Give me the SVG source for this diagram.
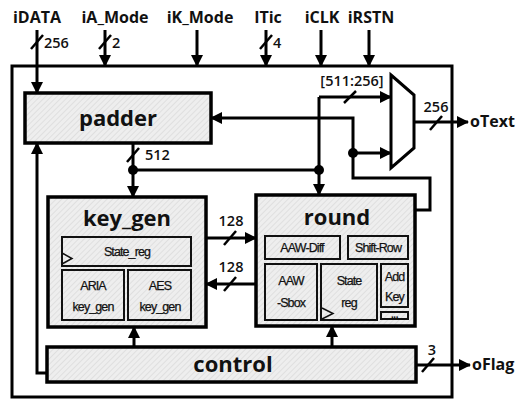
<svg xmlns="http://www.w3.org/2000/svg" width="520" height="399" viewBox="0 0 520 399">
<style>
.lbl{font-family:"Open Sans","Noto Sans","Liberation Sans",sans-serif;font-weight:bold;fill:#111}
.io{font-size:16px}
.num{font-size:14.5px;font-weight:600}
.title{font-size:22px}
.inner{font-family:"Liberation Sans Narrow","Liberation Sans","Open Sans",sans-serif;font-size:12.5px;fill:#111;letter-spacing:-0.9px;stroke:#111;stroke-width:0.25}
.blk{fill:url(#hatch);stroke:#000;stroke-width:3.5}
.sub{fill:url(#hatch);stroke:#111;stroke-width:2}
.wire{fill:none;stroke:#000;stroke-width:3}
.slash{stroke:#000;stroke-width:2.5}
</style>
<defs>
<pattern id="hatch" patternUnits="userSpaceOnUse" width="4" height="4" patternTransform="rotate(45)">
<rect width="4" height="4" fill="#eeeeee"/>
<line x1="0" y1="0" x2="0" y2="4" stroke="#d0d0d0" stroke-width="1"/>
</pattern>
<marker id="arr" markerUnits="userSpaceOnUse" markerWidth="12" markerHeight="12" viewBox="0 0 12 12" refX="11" refY="6" orient="auto">
<path d="M0,0 L12,6 L0,12 Z" fill="#000"/>
</marker>
</defs>
<rect width="520" height="399" fill="#fff"/>

<!-- outer box -->
<rect x="12" y="66" width="440" height="331" fill="none" stroke="#000" stroke-width="3"/>

<!-- IO labels -->
<g id="inputs">
<text class="lbl io" x="37" y="23" text-anchor="middle">iDATA</text>
<text class="lbl io" x="115" y="23" text-anchor="middle">iA_Mode</text>
<text class="lbl io" x="200" y="23" text-anchor="middle">iK_Mode</text>
<text class="lbl io" x="268" y="23" text-anchor="middle">ITic</text>
<text class="lbl io" x="322" y="23" text-anchor="middle">iCLK</text>
<text class="lbl io" x="371" y="23" text-anchor="middle">iRSTN</text>
</g>

<!-- nodes -->
<g id="padder">
<rect class="blk" x="25" y="93" width="186" height="50"/>
<text class="lbl title" x="118" y="126" text-anchor="middle">padder</text>
</g>

<g id="key_gen">
<rect class="blk" x="48" y="197" width="158" height="130"/>
<text class="lbl title" x="127" y="226" text-anchor="middle">key_gen</text>
<rect class="sub" x="62" y="237" width="129" height="29"/>
<text class="inner" x="127" y="256" text-anchor="middle">State_reg</text>
<path d="M62,253 L72,258.5 L62,264" fill="none" stroke="#111" stroke-width="1.5"/>
<rect class="sub" x="62" y="270" width="62" height="50"/>
<text class="inner" x="93" y="290" text-anchor="middle">ARIA</text>
<text class="inner" x="93" y="311" text-anchor="middle">key_gen</text>
<rect class="sub" x="128" y="270" width="63" height="50"/>
<text class="inner" x="160" y="290" text-anchor="middle">AES</text>
<text class="inner" x="160" y="311" text-anchor="middle">key_gen</text>
</g>

<g id="round">
<rect class="blk" x="256" y="195" width="159" height="131"/>
<text class="lbl title" x="337" y="225" text-anchor="middle">round</text>
<rect class="sub" x="265" y="236" width="75" height="23"/>
<text class="inner" x="302" y="252" text-anchor="middle">AAW-Diff</text>
<rect class="sub" x="348" y="236" width="60" height="23"/>
<text class="inner" x="378" y="252" text-anchor="middle">Shift-Row</text>
<rect class="sub" x="265" y="264" width="52" height="56"/>
<text class="inner" x="291" y="285" text-anchor="middle">AAW</text>
<text class="inner" x="291" y="307" text-anchor="middle">-Sbox</text>
<rect class="sub" x="321" y="264" width="56" height="56"/>
<text class="inner" x="349" y="285" text-anchor="middle">State</text>
<text class="inner" x="349" y="307" text-anchor="middle">reg</text>
<path d="M322,308 L333,313.5 L322,319" fill="none" stroke="#111" stroke-width="1.5"/>
<rect class="sub" x="381" y="264" width="27" height="43"/>
<text class="inner" x="394.5" y="281" text-anchor="middle">Add</text>
<text class="inner" x="394.5" y="301" text-anchor="middle">Key</text>
<rect class="sub" x="381" y="312" width="27" height="7"/>
<text x="394.5" y="318" text-anchor="middle" style="font-family:'Liberation Sans',sans-serif;font-size:10px;font-weight:bold;fill:#111;letter-spacing:-0.5px">...</text>
</g>

<g id="control">
<rect class="blk" x="47" y="347" width="369" height="35"/>
<text class="lbl title" x="233" y="372" text-anchor="middle">control</text>
</g>

<g id="mux">
<polygon points="391,75 414,95 414,148 391,168" fill="#fff" stroke="#000" stroke-width="3"/>
</g>

<!-- connectors -->
<g id="connectors">
<path class="wire" d="M37,30 V93" marker-end="url(#arr)"/>
<path class="wire" d="M105,30 V66" marker-end="url(#arr)"/>
<path class="wire" d="M197,30 V66" marker-end="url(#arr)"/>
<path class="wire" d="M266,30 V66" marker-end="url(#arr)"/>
<path class="wire" d="M321,30 V66" marker-end="url(#arr)"/>
<path class="wire" d="M369,30 V66" marker-end="url(#arr)"/>

<path class="wire" d="M133,143 V197" marker-end="url(#arr)"/>
<path class="wire" d="M133,170 H319"/>
<path class="wire" d="M319,97 V195" marker-end="url(#arr)"/>
<path class="wire" d="M319,97 H391" marker-end="url(#arr)"/>
<path class="wire" d="M415,210 H430 V178 H353 V118 H211" marker-end="url(#arr)"/>
<path class="wire" d="M353,153 H391" marker-end="url(#arr)"/>
<circle cx="133" cy="170" r="5" fill="#000"/>
<circle cx="319" cy="170" r="5" fill="#000"/>
<circle cx="353" cy="153" r="5" fill="#000"/>

<path class="wire" d="M414,122 H468" marker-end="url(#arr)"/>
<path class="wire" d="M206,238 H256" marker-end="url(#arr)"/>
<path class="wire" d="M256,284 H206" marker-end="url(#arr)"/>
<path class="wire" d="M134,347 V327" marker-end="url(#arr)"/>
<path class="wire" d="M332,347 V326" marker-end="url(#arr)"/>
<path class="wire" d="M47,373 H37 V143" marker-end="url(#arr)"/>
<path class="wire" d="M416,365 H470" marker-end="url(#arr)"/>

<!-- bus slashes -->
<line class="slash" x1="31" y1="49" x2="43" y2="35"/>
<line class="slash" x1="99" y1="49" x2="111" y2="35"/>
<line class="slash" x1="260" y1="49" x2="272" y2="35"/>
<line class="slash" x1="127" y1="162" x2="139" y2="148"/>
<line class="slash" x1="344" y1="103" x2="356" y2="91"/>
<line class="slash" x1="430" y1="130" x2="442" y2="116"/>
<line class="slash" x1="224" y1="245" x2="236" y2="231"/>
<line class="slash" x1="224" y1="291" x2="236" y2="277"/>
<line class="slash" x1="422" y1="372" x2="434" y2="358"/>

<text class="lbl num" x="44" y="48">256</text>
<text class="lbl num" x="112" y="48">2</text>
<text class="lbl num" x="273" y="48">4</text>
<text class="lbl num" x="145" y="160">512</text>
<text class="lbl num" x="352" y="86" text-anchor="middle">[511:256]</text>
<text class="lbl num" x="436" y="112" text-anchor="middle">256</text>
<text class="lbl num" x="231" y="226" text-anchor="middle">128</text>
<text class="lbl num" x="231" y="272" text-anchor="middle">128</text>
<text class="lbl num" x="432" y="355" text-anchor="middle">3</text>
<text class="lbl io" x="470" y="127">oText</text>
<text class="lbl io" x="472" y="370">oFlag</text>
</g>
</svg>
